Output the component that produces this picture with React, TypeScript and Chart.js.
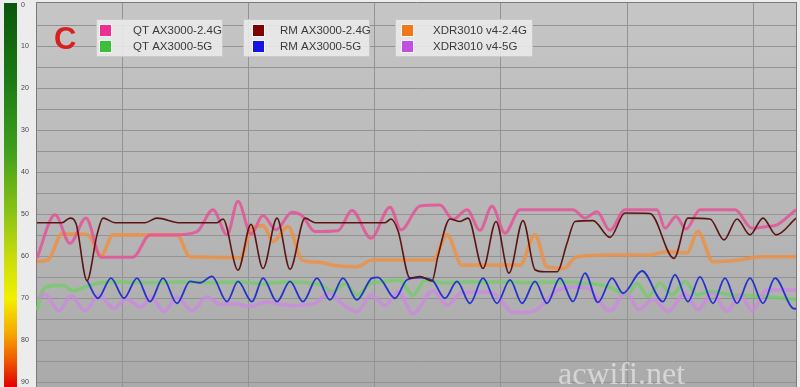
import { useEffect, useRef } from 'react';
import { Chart, registerables } from 'chart.js';

Chart.register(...registerables);

// x = time units (0..760), y = signal value (0 top .. 91 bottom)
const seriesLabels = ['QT AX3000-2.4G', 'QT AX3000-5G', 'RM AX3000-2.4G', 'RM AX3000-5G', 'XDR3010 v4-2.4G', 'XDR3010 v4-5G'];
const legendColors = ['#ec2f90', '#3cc03c', '#800000', '#1414e6', '#f07818', '#c050e0'];
const yTickLabels = [0, 10, 20, 30, 40, 50, 60, 70, 80, 90];
const yGridValues = [5, 10, 15, 20, 25, 30, 35, 40, 45, 50, 55, 60, 65, 70, 75, 80, 85, 90];
const xGridValues = [86, 212, 338, 464, 591, 717];

const qt24X = [1, 19, 34, 50, 65, 74, 97, 114, 137, 161, 177, 191, 202, 215, 227, 240, 256, 266, 279, 302, 316, 335, 354, 365, 384, 404, 417, 431, 444, 456, 469, 484, 537, 549, 561, 574, 589, 621, 629, 640, 650, 664, 699, 716, 731, 741, 760];
const qt24Y = [60.5, 50.2, 57, 51, 60.3, 60.3, 60.3, 55, 55, 54.2, 49, 55, 47, 54.8, 50.4, 53.8, 49.6, 50.4, 54.2, 54, 49.2, 55.8, 48.4, 53.8, 48.1, 47.9, 51.3, 49, 53.9, 48.2, 54.6, 49, 49, 51, 49.5, 53.9, 49, 49, 53.4, 50.6, 53.6, 49, 49, 53.4, 53, 52.6, 49];

const qt5X = [1, 6, 14, 27, 37, 51, 64, 84, 114, 144, 174, 204, 224, 254, 284, 297, 309, 321, 334, 349, 364, 377, 389, 409, 434, 464, 494, 524, 554, 574, 591, 601, 612, 624, 636, 649, 661, 674, 694, 714, 747, 760];
const qt5Y = [73, 68.5, 67.2, 67, 68.3, 67.3, 66.4, 66.2, 66.4, 66.2, 66.4, 66.2, 66.6, 66.2, 66.8, 68.5, 66.6, 69.3, 66.6, 66.1, 65.8, 69.4, 65.8, 66.4, 66.2, 66.2, 66.4, 66.2, 66.6, 67.5, 69.3, 66.5, 69.7, 66.5, 69.3, 66.1, 69.3, 68.5, 69.3, 69.5, 70.1, 70.5];

const rm24X = [1, 26, 34, 40, 51, 61, 67, 79, 109, 121, 144, 181, 187, 202, 215, 227, 241, 254, 269, 279, 349, 355, 362, 374, 384, 396, 402, 414, 424, 432, 447, 460, 473, 487, 499, 509, 521, 531, 539, 557, 574, 589, 614, 638, 652, 674, 688, 701, 714, 727, 740, 760];
const rm24Y = [52.1, 52.1, 51, 52.3, 65.9, 55, 51, 52.1, 52.1, 51, 52.1, 52.1, 51.2, 63.4, 52.5, 63, 51, 63.2, 51, 52.1, 52.1, 51.2, 54, 65.3, 64.9, 66, 60, 51.2, 51.8, 51, 63, 51.8, 64.1, 51.6, 63.3, 63.8, 63.8, 57, 51.8, 51.6, 55.6, 49.8, 49.9, 60.6, 51, 51.2, 56.2, 51.2, 55, 51, 55, 51];

const rm5X = [51, 62, 75, 88, 101, 114, 127, 141, 154, 164, 176, 191, 202, 216, 227, 241, 254, 267, 281, 294, 307, 321, 336, 342, 359, 371, 384, 397, 409, 421, 434, 447, 461, 474, 486, 499, 511, 524, 537, 549, 562, 576, 587, 606, 627, 639, 652, 664, 677, 689, 701, 714, 727, 739, 757, 760];
const rm5Y = [65.8, 70.1, 65.3, 70.1, 65.3, 70.9, 65.3, 71.3, 66.1, 66.4, 64.9, 70.9, 66.1, 70.9, 65.3, 70.9, 66.1, 70.9, 65.3, 70.5, 65.3, 70.5, 65.3, 65.1, 70.1, 65.7, 65.2, 66, 70.1, 66.1, 71.3, 65.3, 71.3, 65.7, 71.3, 66.1, 71.3, 65.3, 70.9, 64.1, 71.1, 65.3, 68.9, 63.6, 70.9, 64.5, 70.9, 65, 71.3, 65.3, 71.3, 65.3, 71.3, 65.3, 72.5, 72.6];

const xdr24X = [1, 12, 26, 42, 52, 65, 77, 141, 154, 197, 204, 216, 227, 237, 252, 266, 282, 299, 321, 336, 397, 411, 426, 484, 499, 511, 527, 541, 574, 614, 631, 651, 662, 677, 704, 724, 760];
const xdr24Y = [61.3, 61, 54.8, 54.8, 55, 60, 55, 55, 60.2, 60.4, 60.5, 53.4, 52.8, 56.6, 53, 61, 61.5, 62.3, 62.6, 61, 61, 55, 62.2, 62.2, 55, 62.6, 63, 60.2, 59.8, 59.8, 59, 59.3, 54.2, 61.4, 61, 60.2, 60.2];

const xdr5X = [2, 9, 23, 35, 49, 63, 78, 90, 105, 115, 128, 141, 156, 171, 184, 197, 214, 231, 254, 277, 294, 304, 321, 335, 349, 362, 377, 397, 411, 426, 451, 461, 477, 497, 521, 537, 551, 574, 590, 603, 617, 632, 649, 662, 676, 691, 704, 716, 731, 760];
const xdr5Y = [70, 69.2, 73.1, 69.5, 73.1, 69.4, 72.5, 70.2, 72.2, 69.8, 73.3, 69.8, 73, 69.8, 71.5, 71.4, 72, 71, 71.8, 71.5, 68.8, 71, 73.3, 69.3, 71.8, 68.5, 73.7, 68.3, 71.7, 68.8, 68.6, 69.5, 73.5, 73.2, 68.3, 67.4, 67.6, 73.1, 68.6, 72.8, 70.4, 73.2, 69, 72.8, 68.9, 73.2, 69.3, 73, 68.1, 68.1];

const pts = (xs: number[], ys: number[]) => xs.map((x, i) => ({ x, y: ys[i] }));

const decor = {
  id: 'decor',
  beforeDraw(chart: any) {
    const ctx = chart.ctx as CanvasRenderingContext2D;
    const xs = chart.scales.x;
    const ys = chart.scales.y;
    const ca = chart.chartArea;
    ctx.save();
    ctx.fillStyle = '#ececec';
    ctx.fillRect(0, 0, chart.width, chart.height);
    // colour scale bar
    const g = ctx.createLinearGradient(0, 3, 0, chart.height);
    g.addColorStop(0, '#0a560c');
    g.addColorStop(0.2, '#1c7a16');
    g.addColorStop(0.38, '#3f9e1c');
    g.addColorStop(0.55, '#8cc414');
    g.addColorStop(0.66, '#c8dc0c');
    g.addColorStop(0.77, '#f2f000');
    g.addColorStop(0.86, '#f6a800');
    g.addColorStop(0.93, '#ee5a00');
    g.addColorStop(1, '#e00000');
    ctx.fillStyle = g;
    ctx.fillRect(4, 3, 13, chart.height - 3);
    // plot background
    const bg = ctx.createLinearGradient(0, ca.top, 0, ca.bottom);
    bg.addColorStop(0, '#c6c6c6');
    bg.addColorStop(1, '#aaaaaa');
    ctx.fillStyle = bg;
    ctx.fillRect(ca.left, 2, chart.width - ca.left - 3, chart.height - 2);
    // grid
    ctx.lineWidth = 1;
    ctx.strokeStyle = '#939393';
    ctx.beginPath();
    for (const v of yGridValues) {
      const y = Math.round(ys.getPixelForValue(v)) + 0.5;
      ctx.moveTo(ca.left, y);
      ctx.lineTo(chart.width - 3, y);
    }
    for (const v of xGridValues) {
      const x = Math.round(xs.getPixelForValue(v)) + 0.5;
      ctx.moveTo(x, 2);
      ctx.lineTo(x, chart.height);
    }
    ctx.stroke();
    ctx.strokeStyle = '#7a7a7a';
    ctx.beginPath();
    ctx.moveTo(ca.left + 0.5, 2);
    ctx.lineTo(ca.left + 0.5, chart.height);
    ctx.moveTo(ca.left, 2.5);
    ctx.lineTo(chart.width - 3, 2.5);
    ctx.moveTo(chart.width - 3.5, 2);
    ctx.lineTo(chart.width - 3.5, chart.height);
    ctx.stroke();
    // y tick labels
    ctx.fillStyle = '#444';
    ctx.font = '7px "Liberation Sans", Arial, sans-serif';
    ctx.textBaseline = 'middle';
    ctx.textAlign = 'left';
    for (const v of yTickLabels) {
      const y = ys.getPixelForValue(v);
      ctx.fillText(String(v), 21, Math.max(y, 5));
    }
    ctx.restore();
  },
  afterDatasetsDraw(chart: any) {
    const ctx = chart.ctx as CanvasRenderingContext2D;
    ctx.save();
    // legend
    const cols = [
      { bx: 96, bw: 127, sx: 100, tx: 133 },
      { bx: 243, bw: 127, sx: 253, tx: 280 },
      { bx: 395, bw: 138, sx: 402, tx: 433 },
    ];
    ctx.font = '11.5px "Liberation Sans", Arial, sans-serif';
    ctx.textBaseline = 'middle';
    ctx.textAlign = 'left';
    cols.forEach((c, ci) => {
      ctx.fillStyle = 'rgba(234,234,234,0.9)';
      ctx.fillRect(c.bx, 19, c.bw, 38);
      ctx.strokeStyle = '#cacaca';
      ctx.lineWidth = 1;
      ctx.strokeRect(c.bx + 0.5, 19.5, c.bw - 1, 37);
      for (let r = 0; r < 2; r++) {
        const idx = ci * 2 + r;
        const sy = 25 + r * 16;
        ctx.fillStyle = legendColors[idx];
        ctx.fillRect(c.sx, sy, 11, 11);
        ctx.strokeStyle = '#f6f6f6';
        ctx.strokeRect(c.sx - 0.5, sy - 0.5, 12, 12);
        ctx.fillStyle = '#3a3a3a';
        ctx.fillText(seriesLabels[idx], c.tx, sy + 6);
      }
    });
    // big C
    ctx.fillStyle = '#d82020';
    ctx.font = 'bold 31px "Liberation Sans", Arial, sans-serif';
    ctx.textBaseline = 'alphabetic';
    ctx.fillText('C', 54, 49);
    // watermark
    ctx.fillStyle = 'rgba(228,228,228,0.75)';
    ctx.font = '32px "Liberation Serif", "Times New Roman", serif';
    ctx.fillText('acwifi.net', 558, 384);
    ctx.restore();
  },
};

export default function App() {
  const ref = useRef<HTMLCanvasElement | null>(null);
  useEffect(() => {
    if (!ref.current) return;
    const mk = (i: number, xs: number[], ys: number[], color: string, width: number, order: number) => ({
      label: seriesLabels[i],
      data: pts(xs, ys),
      borderColor: color,
      backgroundColor: legendColors[i],
      borderWidth: width,
      pointRadius: 0,
      fill: false,
      order,
      cubicInterpolationMode: 'monotone' as const,
    });
    const chart = new Chart(ref.current, {
      type: 'line',
      data: {
        datasets: [
          mk(0, qt24X, qt24Y, 'rgba(228,84,152,0.85)', 3, 2),
          mk(1, qt5X, qt5Y, 'rgba(108,206,96,0.72)', 3.5, 5),
          mk(2, rm24X, rm24Y, '#5c1414', 1.6, 0),
          mk(3, rm5X, rm5Y, '#2233cc', 1.8, 1),
          mk(4, xdr24X, xdr24Y, 'rgba(236,144,70,0.85)', 3.6, 3),
          mk(5, xdr5X, xdr5Y, 'rgba(205,135,226,0.78)', 3.5, 4),
        ],
      },
      options: {
        animation: false,
        responsive: false,
        maintainAspectRatio: false,
        layout: { padding: { left: 36, right: 4, top: 4, bottom: 1 } },
        scales: {
          x: { type: 'linear', min: 0, max: 760, display: false },
          y: { type: 'linear', min: 0, max: 91, reverse: true, display: false },
        },
        plugins: { legend: { display: false }, tooltip: { enabled: false } },
        elements: { point: { radius: 0 } },
      },
      plugins: [decor],
    });
    return () => chart.destroy();
  }, []);
  return (
    <div style={{ position: 'fixed', left: 0, top: 0, width: 800, height: 387 }}>
      <canvas ref={ref} width={800} height={387} style={{ display: 'block' }} />
    </div>
  );
}
